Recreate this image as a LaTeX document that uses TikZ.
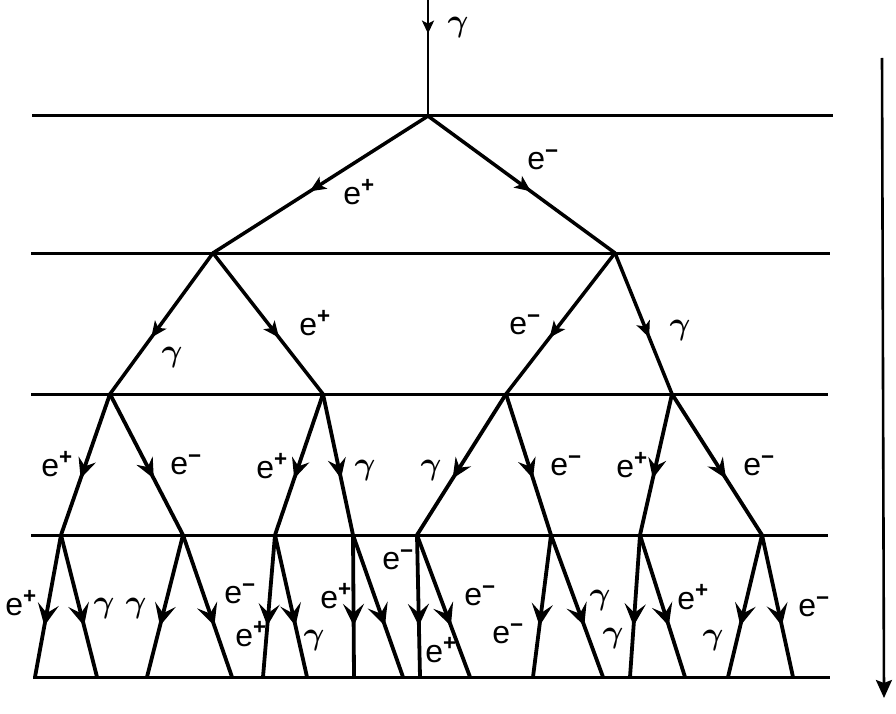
\RequirePackage{fix-cm}
\documentclass[tikz,border=0pt]{standalone}
\usepackage{fontspec}
\usepackage{bm}
\setmainfont{Liberation Sans}
\usetikzlibrary{arrows.meta,decorations.markings}
\newcommand{\gam}{$\bm{\gamma}$}
\newcommand{\elp}{e\textsuperscript{\bfseries+}}
\newcommand{\elm}{e\textsuperscript{\bfseries−}}
\begin{document}
\begin{tikzpicture}[x=1pt,y=-1pt,
  levelline/.style={line width=3pt},
  bigtip/.style={decoration={markings, mark=at position #1 with {\arrow{Stealth[length=22pt,width=21pt,inset=9pt]}}}},
  midtip/.style={decoration={markings, mark=at position #1 with {\arrow{Stealth[length=20pt,width=18pt,inset=7pt]}}}},
  smalltip/.style={decoration={markings, mark=at position #1 with {\arrow{Stealth[length=16pt,width=14pt,inset=4pt]}}}},
  upper/.style={line width=3.5pt, line cap=round, smalltip=#1, postaction={decorate}},
  upper/.default=0.55,
  middle/.style={line width=3.8pt, line cap=round, midtip=#1, postaction={decorate}},
  middle/.default=0.6,
  lower/.style={line width=3.8pt, line cap=round, bigtip=#1, postaction={decorate}},
  lower/.default=0.64,
  lab/.style={inner sep=0pt, font=\fontsize{32}{36}\selectfont},
]
\useasboundingbox (0,0) rectangle (896,714);
% level lines
\coordinate (L1a) at (32,116);  \coordinate (L1b) at (833,116);
\coordinate (L2a) at (31,253);  \coordinate (L2b) at (830,253);
\coordinate (L3a) at (31,394);  \coordinate (L3b) at (828,394);
\coordinate (L4a) at (31,535);  \coordinate (L4b) at (828,535);
\coordinate (L5a) at (33,677);  \coordinate (L5b) at (830,677);
\foreach \i in {1,...,5} \draw[levelline] (L\i a) -- (L\i b);
% vertices
\coordinate (t) at (428,0);
\coordinate (a) at (428,116);
\coordinate (b1) at (213,253); \coordinate (b2) at (615,253);
\coordinate (c1) at (110,394); \coordinate (c2) at (323,394);
\coordinate (c3) at (506,394); \coordinate (c4) at (672,394);
\coordinate (d1) at (61,535);  \coordinate (d2) at (183,535);
\coordinate (d3) at (275,535); \coordinate (d4) at (353,535);
\coordinate (d5) at (417,535); \coordinate (d6) at (551,535);
\coordinate (d7) at (640,535); \coordinate (d8) at (762,535);
\coordinate (e1) at (35,677);  \coordinate (e2) at (97,677);
\coordinate (e3) at (147,677); \coordinate (e4) at (232,677);
\coordinate (e5) at (263,677); \coordinate (e6) at (307,677);
\coordinate (e7) at (354,677); \coordinate (e8) at (403,677);
\coordinate (e9) at (420,677); \coordinate (e10) at (470,677);
\coordinate (e11) at (533,677); \coordinate (e12) at (603,677);
\coordinate (e13) at (630,677); \coordinate (e14) at (685,677);
\coordinate (e15) at (728,677); \coordinate (e16) at (793,677);
% incoming photon
\draw[line width=2.6pt, decoration={markings, mark=at position 0.29 with {\arrow{Stealth[length=13pt,width=12pt,inset=3pt]}}}, postaction={decorate}] (t) -- (a);
% branches
\draw[upper] (a) -- (b1);
\draw[upper] (a) -- (b2);
\draw[upper=0.6] (b1) -- (c1);
\draw[upper=0.6] (b1) -- (c2);
\draw[upper=0.6] (b2) -- (c3);
\draw[upper=0.6] (b2) -- (c4);
\draw[middle] (c1) -- (d1);
\draw[middle] (c1) -- (d2);
\draw[middle] (c2) -- (d3);
\draw[middle] (c2) -- (d4);
\draw[middle] (c3) -- (d5);
\draw[middle] (c3) -- (d6);
\draw[middle] (c4) -- (d7);
\draw[middle] (c4) -- (d8);
\foreach \p/\q in {d1/e1,d1/e2,d2/e3,d2/e4,d3/e5,d3/e6,d4/e7,d4/e8,d5/e9,d5/e10,d6/e11,d6/e12,d7/e13,d7/e14,d8/e15,d8/e16}
  \draw[lower] (\p) -- (\q);
% depth arrow
\coordinate (r1) at (882,58);
\coordinate (r2) at (884,698);
\draw[line width=2.6pt, -{Stealth[length=18pt,width=16pt,inset=3pt]}] (r1) -- (r2);
% labels
\node[lab] (g0) at (458,28) {\gam};
\node[lab] (m1) at (543,160) {\elm};
\node[lab] (p1) at (359,192) {\elp};
\node[lab] (p2) at (315,323) {\elp};
\node[lab] (g2) at (172,357) {\gam};
\node[lab] (m2) at (525,325) {\elm};
\node[lab] (g3) at (680,330) {\gam};
\node[lab] (p3) at (57,464) {\elp};
\node[lab] (m3) at (186,465) {\elm};
\node[lab] (p4) at (272,466) {\elp};
\node[lab] (g4) at (365,470) {\gam};
\node[lab] (g5) at (431,470) {\gam};
\node[lab] (m4) at (566,466) {\elm};
\node[lab] (p5) at (632,465) {\elp};
\node[lab] (m5) at (759,466) {\elm};
\node[lab] (p6) at (21,603) {\elp};
\node[lab] (g6) at (104,608) {\gam};
\node[lab] (g7) at (136,608) {\gam};
\node[lab] (m6) at (240,594) {\elm};
\node[lab] (p7) at (251,634) {\elp};
\node[lab] (g8) at (314,640) {\gam};
\node[lab] (p8) at (336,596) {\elp};
\node[lab] (m7) at (398,560) {\elm};
\node[lab] (p9) at (441,650) {\elp};
\node[lab] (m8) at (480,596) {\elm};
\node[lab] (m9) at (508,634) {\elm};
\node[lab] (g9) at (600,600) {\gam};
\node[lab] (g10) at (613,638) {\gam};
\node[lab] (p10) at (693,597) {\elp};
\node[lab] (g11) at (713,640) {\gam};
\node[lab] (m10) at (814,607) {\elm};
\end{tikzpicture}
\end{document}
